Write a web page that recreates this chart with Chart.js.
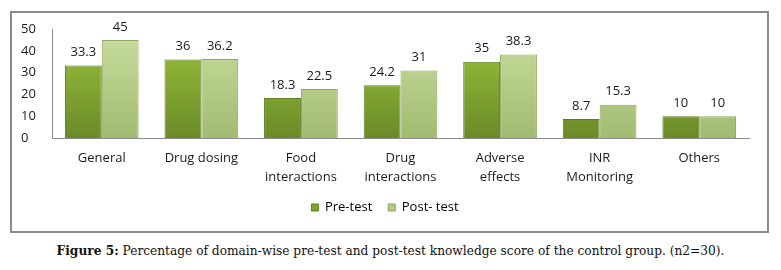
<!DOCTYPE html>
<html>
<head>
<meta charset="utf-8">
<script src="https://cdn.jsdelivr.net/npm/chart.js@4"></script>
<style>
  body { margin: 0; background: #fff; width: 781px; height: 270px; position: relative; overflow: hidden; }
  #box { position: absolute; left: 10px; top: 11px; width: 755px; height: 218px; border: 2px solid #8a8a8a; }
  #wrap { position: absolute; left: 0; top: 0; width: 781px; height: 230px; }
  #caption { position: absolute; left: 0; top: 244px; width: 781px; text-align: center;
             font-family: "DejaVu Serif", serif; font-size: 12.2px; color: #111; white-space: nowrap; }
</style>
</head>
<body>
<div id="box"></div>
<div id="wrap"><canvas id="knowledge-chart"></canvas></div>
<div id="caption"><b>Figure 5:</b> Percentage of domain-wise pre-test and post-test knowledge score of the control group. (n2=30).</div>
<script>
// categories (multi-line labels as arrays)
const domains = [
  "General",
  "Drug dosing",
  ["Food", "interactions"],
  ["Drug", "interactions"],
  ["Adverse", "effects"],
  ["INR", "Monitoring"],
  "Others"
]

// series values
const pre_test = [33.3, 36, 18.3, 24.2, 35, 8.7, 10]
const post_test = [45, 36.2, 22.5, 31, 38.3, 15.3, 10]

// y axis ticks
const y_ticks = [0, 10, 20, 30, 40, 50]

function barFill(top, bottom) {
  return function (ctx) {
    const area = ctx.chart.chartArea
    if (!area) return bottom
    const g = ctx.chart.ctx.createLinearGradient(0, area.top, 0, area.bottom)
    g.addColorStop(0, top)
    g.addColorStop(1, bottom)
    return g
  }
}

// draw numbers above the bars
const valueLabels = {
  id: "valueLabels",
  afterDatasetsDraw(chart) {
    const c = chart.ctx
    c.save()
    c.font = "13px 'Open Sans'"
    c.fillStyle = "#1a1a1a"
    c.textAlign = "center"
    c.textBaseline = "middle"
    chart.data.datasets.forEach((ds, i) => {
      chart.getDatasetMeta(i).data.forEach((bar, j) => {
        c.fillText(String(ds.data[j]), bar.x, bar.y - 13)
      })
    })
    c.restore()
  }
}

new Chart(document.getElementById("knowledge-chart"), {
  type: "bar",
  data: {
    labels: domains,
    datasets: [
      {
        label: "Pre-test",
        data: pre_test,
        backgroundColor: barFill("#9cc63e", "#6a8a28"),
        borderColor: "#5f7d22",
        borderWidth: 1
      },
      {
        label: "Post- test",
        data: post_test,
        backgroundColor: barFill("#c8de9e", "#a2bb72"),
        borderColor: "#8ea55f",
        borderWidth: 1
      }
    ]
  },
  options: {
    responsive: true,
    maintainAspectRatio: false,
    animation: false,
    layout: { padding: { left: 21, right: 32, top: 29, bottom: 6 } },
    datasets: { bar: { categoryPercentage: 0.74, barPercentage: 1 } },
    scales: {
      x: {
        afterFit(scale) { scale.height = 47 },
        grid: { display: false, drawTicks: false, tickLength: 0 },
        border: { color: "#8c8c8c", width: 1 },
        ticks: { color: "#1a1a1a", font: { family: "'Open Sans'", size: 13, lineHeight: "19px" }, padding: 11, maxRotation: 0, autoSkip: false }
      },
      y: {
        min: 0,
        max: 50,
        afterBuildTicks(scale) { scale.ticks = y_ticks.map(v => ({ value: v })) },
        afterFit(scale) { scale.width = 31 },
        grid: { display: false },
        border: { color: "#8c8c8c", width: 1 },
        ticks: { color: "#1a1a1a", font: { family: "'Open Sans'", size: 13 }, crossAlign: "far", padding: 0 }
      }
    },
    plugins: {
      tooltip: { enabled: false },
      legend: {
        position: "bottom",
        labels: {
          color: "#1a1a1a",
          font: { family: "'Open Sans'", size: 13 },
          boxWidth: 7,
          boxHeight: 7,
          padding: 16,
          generateLabels() {
            return [
              { text: "Pre-test", fillStyle: "#7fa530", strokeStyle: "#5f7d22", lineWidth: 1, datasetIndex: 0 },
              { text: "Post- test", fillStyle: "#b3ca86", strokeStyle: "#8ea55f", lineWidth: 1, datasetIndex: 1 }
            ]
          }
        }
      }
    }
  },
  plugins: [valueLabels]
})
</script>
</body>
</html>
